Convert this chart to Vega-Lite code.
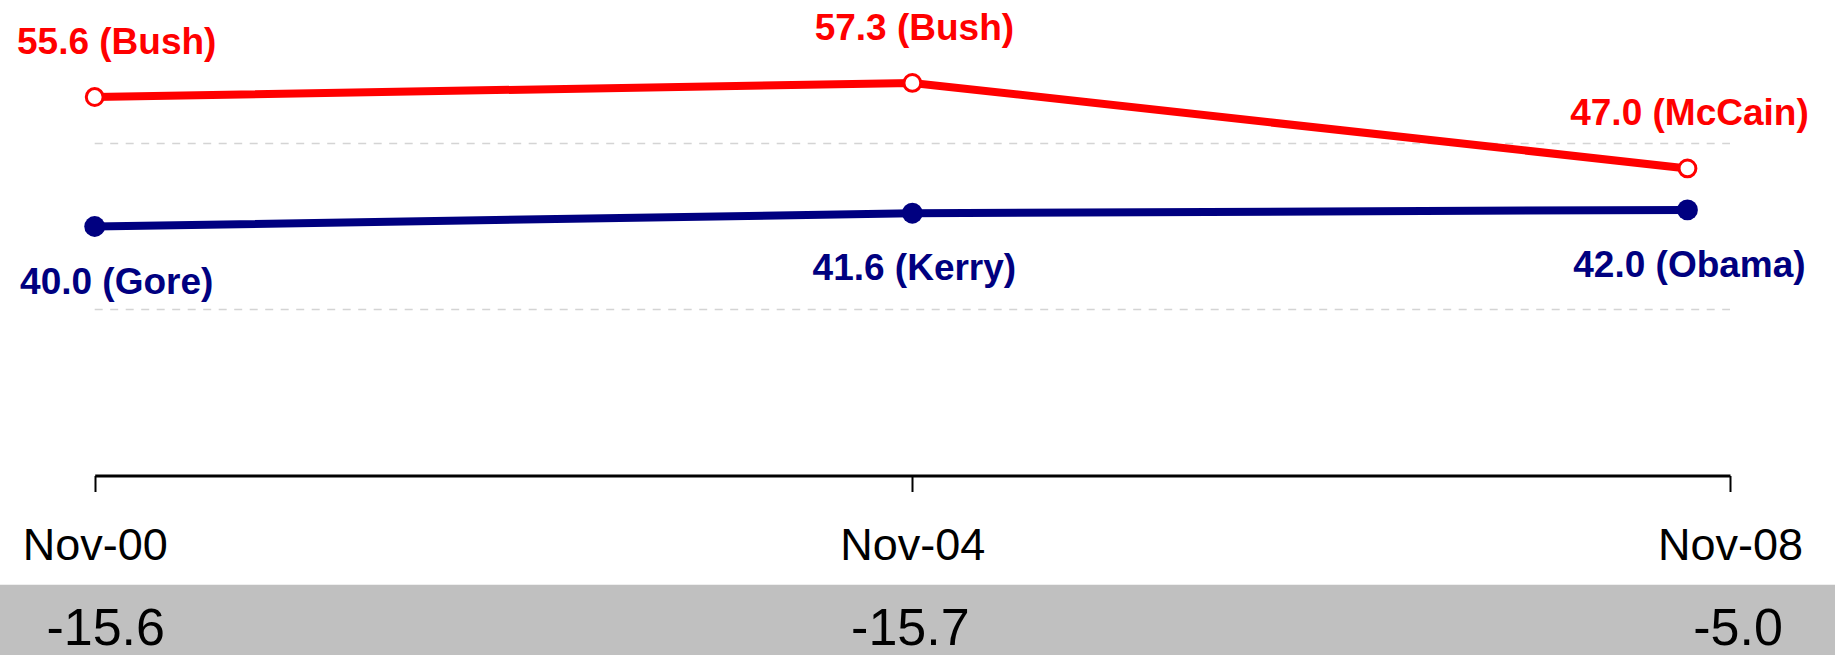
{
  "$schema": "https://vega.github.io/schema/vega-lite/v6.json",
  "background": "white",
  "padding": 0,
  "spacing": 108.8,
  "bounds": "flush",
  "config": {
    "view": {"stroke": null},
    "font": "Liberation Sans",
    "locale": {"number": {"decimal": ".", "thousands": ",", "grouping": [3], "currency": ["$", ""], "minus": "-"}}
  },
  "datasets": {
    "results": [
      {"date": "2000-11-01", "party": "R", "value": 55.6, "label": "55.6 (Bush)"},
      {"date": "2004-11-01", "party": "R", "value": 57.3, "label": "57.3 (Bush)"},
      {"date": "2008-08-17", "party": "R", "value": 47.0, "label": "47.0 (McCain)"},
      {"date": "2000-11-01", "party": "D", "value": 40.0, "label": "40.0 (Gore)"},
      {"date": "2004-11-01", "party": "D", "value": 41.6, "label": "41.6 (Kerry)"},
      {"date": "2008-08-17", "party": "D", "value": 42.0, "label": "42.0 (Obama)"}
    ],
    "grid": [
      {"v": 30, "start": "2000-11-01", "end": "2008-11-01"},
      {"v": 50, "start": "2000-11-01", "end": "2008-11-01"}
    ],
    "margin": [
      {"date": "2000-11-01", "margin": -15.6, "pos": "first"},
      {"date": "2004-11-01", "margin": -15.7, "pos": "middle"},
      {"date": "2008-11-01", "margin": -5.0, "pos": "last"}
    ]
  },
  "vconcat": [
    {
      "width": 1835,
      "height": 475.5,
      "encoding": {},
      "layer": [
        {
          "data": {"name": "grid"},
          "mark": {"type": "rule", "color": "#D4D4D4", "strokeWidth": 1.5, "strokeDash": [8, 7.5]},
          "encoding": {
            "x": {
              "field": "start",
              "type": "temporal",
              "scale": {
                "type": "utc",
                "domain": ["2000-11-01", "2008-11-01"],
                "range": [94.7, 1730]
              },
              "axis": {
                "title": null,
                "grid": false,
                "values": ["2000-11-01", "2004-11-01", "2008-11-01"],
                "labelExpr": "utcFormat(datum.value, '%b-%y')",
                "labelLimit": 0,
                "domainColor": "black",
                "domainWidth": 3,
                "tickColor": "black",
                "tickWidth": 2,
                "tickSize": 16,
                "labelFont": "Liberation Sans",
                "labelFontSize": 45,
                "labelColor": "black",
                "labelBaseline": "alphabetic",
                "labelPadding": 68,
                "labelFlush": false,
                "labelOverlap": false,
                "labelBound": false
              }
            },
            "x2": {"field": "end"},
            "y": {
              "field": "v",
              "type": "quantitative",
              "scale": {"domain": [10, 67.29], "nice": false, "zero": false},
              "axis": null
            }
          }
        },
        {
          "data": {"name": "results"},
          "mark": {"type": "line", "strokeWidth": 8},
          "encoding": {
            "x": {"field": "date", "type": "temporal"},
            "y": {"field": "value", "type": "quantitative", "axis": null},
            "color": {
              "field": "party",
              "type": "nominal",
              "scale": {"domain": ["R", "D"], "range": ["#FF0000", "#000080"]},
              "legend": null
            }
          }
        },
        {
          "data": {"name": "results"},
          "transform": [{"filter": "datum.party === 'R'"}],
          "mark": {"type": "point", "shape": "circle", "filled": true, "fill": "white", "stroke": "#FF0000", "strokeWidth": 3, "size": 283, "opacity": 1},
          "encoding": {
            "x": {"field": "date", "type": "temporal"},
            "y": {"field": "value", "type": "quantitative", "axis": null}
          }
        },
        {
          "data": {"name": "results"},
          "transform": [{"filter": "datum.party === 'D'"}],
          "mark": {"type": "point", "shape": "circle", "filled": true, "color": "#000080", "size": 434, "opacity": 1},
          "encoding": {
            "x": {"field": "date", "type": "temporal"},
            "y": {"field": "value", "type": "quantitative", "axis": null}
          }
        },
        {
          "data": {"name": "results"},
          "transform": [{"filter": "datum.party === 'R' && datum.label === '55.6 (Bush)'"}],
          "mark": {"type": "text", "fontSize": 37, "fontWeight": "bold", "baseline": "alphabetic", "align": "center", "dx": 22, "dy": -43, "color": "#FF0000"},
          "encoding": {
            "x": {"field": "date", "type": "temporal"},
            "y": {"field": "value", "type": "quantitative", "axis": null},
            "text": {"field": "label"}
          }
        },
        {
          "data": {"name": "results"},
          "transform": [{"filter": "datum.party === 'R' && datum.label !== '55.6 (Bush)'"}],
          "mark": {"type": "text", "fontSize": 37, "fontWeight": "bold", "baseline": "alphabetic", "align": "center", "dx": 2, "dy": -43, "color": "#FF0000"},
          "encoding": {
            "x": {"field": "date", "type": "temporal"},
            "y": {"field": "value", "type": "quantitative", "axis": null},
            "text": {"field": "label"}
          }
        },
        {
          "data": {"name": "results"},
          "transform": [{"filter": "datum.party === 'D' && datum.label === '40.0 (Gore)'"}],
          "mark": {"type": "text", "fontSize": 37, "fontWeight": "bold", "baseline": "alphabetic", "align": "center", "dx": 22, "dy": 67, "color": "#000080"},
          "encoding": {
            "x": {"field": "date", "type": "temporal"},
            "y": {"field": "value", "type": "quantitative", "axis": null},
            "text": {"field": "label"}
          }
        },
        {
          "data": {"name": "results"},
          "transform": [{"filter": "datum.party === 'D' && datum.label !== '40.0 (Gore)'"}],
          "mark": {"type": "text", "fontSize": 37, "fontWeight": "bold", "baseline": "alphabetic", "align": "center", "dx": 2, "dy": 67, "color": "#000080"},
          "encoding": {
            "x": {"field": "date", "type": "temporal"},
            "y": {"field": "value", "type": "quantitative", "axis": null},
            "text": {"field": "label"}
          }
        }
      ]
    },
    {
      "width": 1835,
      "height": 70.7,
      "view": {"fill": "#C0C0C0", "stroke": null},
      "data": {"name": "margin"},
      "encoding": {},
      "layer": [
        {
          "transform": [{"filter": "datum.pos === 'first'"}],
          "mark": {"type": "text", "fontSize": 52, "baseline": "alphabetic", "align": "center", "dx": 11, "dy": 24.5, "color": "black"},
          "encoding": {
            "x": {
              "field": "date",
              "type": "temporal",
              "scale": {
                "type": "utc",
                "domain": ["2000-11-01", "2008-11-01"],
                "range": [94.7, 1730]
              },
              "axis": null
            },
            "text": {"field": "margin", "type": "quantitative", "format": ".1f"}
          }
        },
        {
          "transform": [{"filter": "datum.pos === 'middle'"}],
          "mark": {"type": "text", "fontSize": 52, "baseline": "alphabetic", "align": "center", "dx": -2, "dy": 24.5, "color": "black"},
          "encoding": {
            "x": {"field": "date", "type": "temporal", "axis": null},
            "text": {"field": "margin", "type": "quantitative", "format": ".1f"}
          }
        },
        {
          "transform": [{"filter": "datum.pos === 'last'"}],
          "mark": {"type": "text", "fontSize": 52, "baseline": "alphabetic", "align": "center", "dx": 8, "dy": 24.5, "color": "black"},
          "encoding": {
            "x": {"field": "date", "type": "temporal", "axis": null},
            "text": {"field": "margin", "type": "quantitative", "format": ".1f"}
          }
        }
      ]
    }
  ]
}
